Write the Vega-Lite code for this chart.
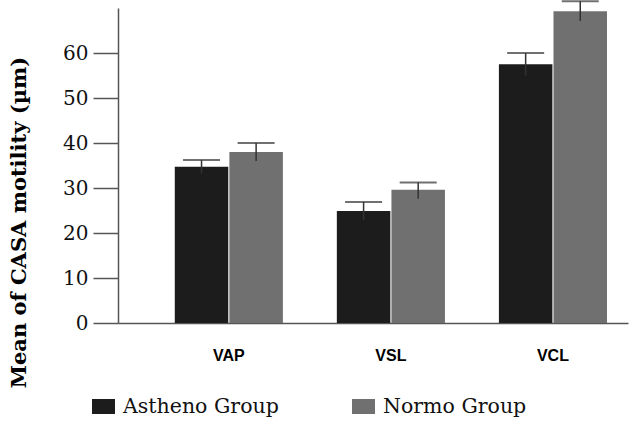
{
  "$schema": "https://vega.github.io/schema/vega-lite/v6.json",
  "width": 510,
  "height": 315,
  "autosize": {"type": "none"},
  "padding": {"left": 118, "top": 8, "right": 2, "bottom": 101},
  "background": "white",
  "config": {"view": {"stroke": null}},
  "data": {
    "values": [
      {"metric": "VAP", "group": "Astheno Group", "mean": 34.7, "lower": 33.2, "upper": 36.2},
      {"metric": "VAP", "group": "Normo Group", "mean": 38.0, "lower": 36.0, "upper": 40.0},
      {"metric": "VSL", "group": "Astheno Group", "mean": 24.9, "lower": 22.9, "upper": 26.9},
      {"metric": "VSL", "group": "Normo Group", "mean": 29.6, "lower": 27.6, "upper": 31.2},
      {"metric": "VCL", "group": "Astheno Group", "mean": 57.5, "lower": 55.0, "upper": 60.0},
      {"metric": "VCL", "group": "Normo Group", "mean": 69.3, "lower": 67.1, "upper": 71.5}
    ]
  },
  "encoding": {
    "x": {
      "field": "metric",
      "type": "nominal",
      "sort": ["VAP", "VSL", "VCL"],
      "scale": {"paddingInner": 0.333, "paddingOuter": 0.24, "align": 0.73},
      "axis": {
        "title": null,
        "ticks": false,
        "labelAngle": 0,
        "labelFont": "Liberation Sans",
        "labelFontWeight": "bold",
        "labelFontSize": 16,
        "labelColor": "#000000",
        "labelPadding": 24,
        "labelDx": -12,
        "domainColor": "#555555",
        "domainWidth": 1.5
      }
    },
    "xOffset": {
      "field": "group",
      "type": "nominal",
      "scale": {"paddingInner": 0.02}
    }
  },
  "layer": [
    {
      "mark": {"type": "bar"},
      "encoding": {
        "y": {
          "field": "mean",
          "type": "quantitative",
          "scale": {"domain": [0, 70], "nice": false},
          "axis": {
            "title": "Mean of CASA motility (µm)",
            "titleFont": "DejaVu Serif",
            "titleFontWeight": "bold",
            "titleFontSize": 21,
            "titleColor": "#000000",
            "titleX": -99,
            "titleY": 214,
            "titleAngle": 270,
            "titleAlign": "center",
            "titleBaseline": "middle",
            "values": [0, 10, 20, 30, 40, 50, 60],
            "grid": false,
            "tickSize": 25,
            "tickColor": "#555555",
            "tickWidth": 1.5,
            "labelFont": "DejaVu Serif",
            "labelFontSize": 20,
            "labelColor": "#111111",
            "labelPadding": 5,
            "domainColor": "#555555",
            "domainWidth": 1.5
          }
        },
        "color": {
          "field": "group",
          "type": "nominal",
          "scale": {"domain": ["Astheno Group", "Normo Group"], "range": ["#1c1c1c", "#707070"]},
          "legend": {
            "title": null,
            "orient": "none",
            "legendX": -26,
            "legendY": 387,
            "direction": "horizontal",
            "columns": 2,
            "columnPadding": 73,
            "padding": 0,
            "symbolType": "M-1,-0.65H1V0.65H-1Z",
            "symbolSize": 529,
            "symbolStrokeWidth": 0,
            "symbolOpacity": 1,
            "labelOffset": 8,
            "labelFont": "DejaVu Serif",
            "labelFontSize": 20.5,
            "labelColor": "#111111",
            "labelLimit": 300
          }
        }
      }
    },
    {
      "mark": {"type": "rule", "color": "#333333", "strokeWidth": 1.5},
      "encoding": {
        "y": {"field": "lower", "type": "quantitative"},
        "y2": {"field": "upper"}
      }
    },
    {
      "mark": {"type": "tick", "color": "#333333", "thickness": 2, "size": 37, "orient": "horizontal"},
      "encoding": {
        "y": {"field": "upper", "type": "quantitative"}
      }
    }
  ]
}
